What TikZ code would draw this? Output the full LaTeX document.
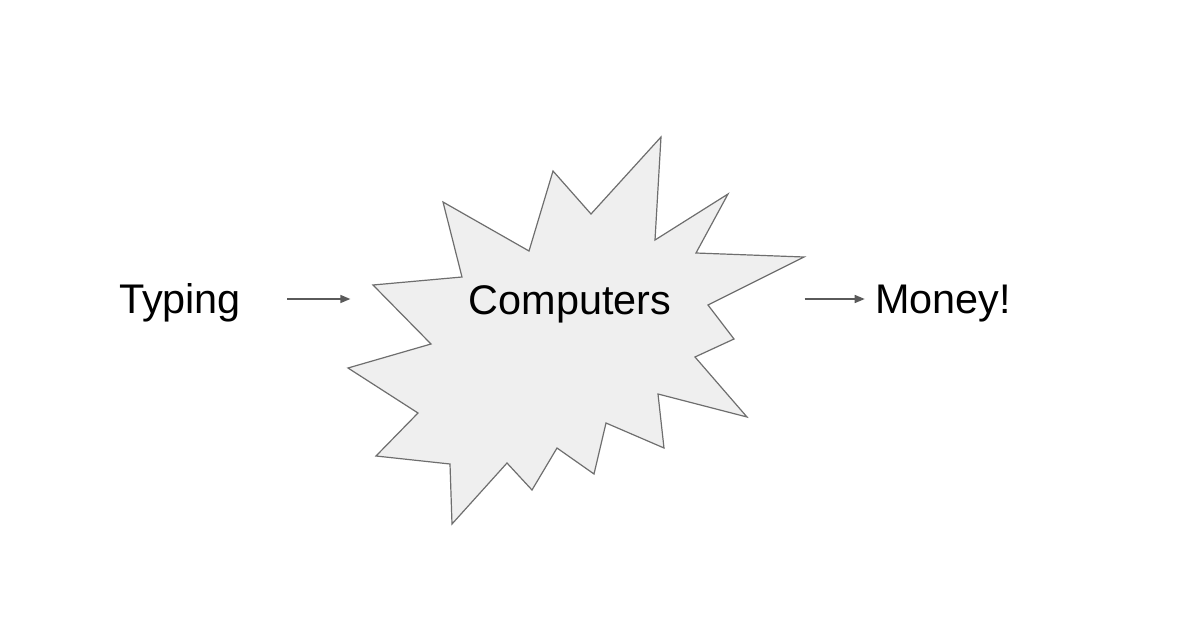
\documentclass[tikz,border=0pt]{standalone}
\usepackage{fontspec}
\setmainfont{Liberation Sans}
\usepackage{xcolor}
\usetikzlibrary{arrows.meta}
\definecolor{burstfill}{RGB}{239,239,239}
\definecolor{burstline}{RGB}{110,110,110}
\definecolor{flowgray}{RGB}{90,90,90}

\begin{document}
\begin{tikzpicture}[
  x=0.5pt,y=-0.5pt,
  font=\fontsize{20.7}{24}\selectfont,
  word/.style={inner sep=0pt,text height=14.8pt,text depth=0pt},
  burst/.style={draw=burstline,fill=burstfill,line width=0.6pt,line join=miter},
  flow/.style={draw=flowgray,line width=0.7pt,-{Triangle[length=5pt,width=4pt]}},
]
  \useasboundingbox (0,0) rectangle (1200,637);

  % the explosion
  \draw[burst] (373,285) -- (462,277) -- (443,202) -- (529,251) -- (553,171)
    -- (591,214) -- (661,137) -- (655,240) -- (728,194) -- (696,253)
    -- (804,257) -- (708,305) -- (734,339) -- (695,357) -- (747,417)
    -- (658,394) -- (664,448) -- (606,423) -- (594,474) -- (557,448)
    -- (532,490) -- (507,463) -- (452,524) -- (450,464) -- (376,456)
    -- (418,413) -- (348,368) -- (431,344) -- cycle;

  \node[word] (typing) at (180,299) {Typing};
  \node[word] (computers) at (570,300) {Computers};
  \node[word] (money) at (943,299) {Money!};

  \draw[flow,shorten <=23pt,shorten >=59pt] (typing.east) -- (computers.west|-typing.east);
  \draw[flow,shorten <=66.5pt,shorten >=5pt] (computers.east|-money.west) -- (money.west);
\end{tikzpicture}
\end{document}
